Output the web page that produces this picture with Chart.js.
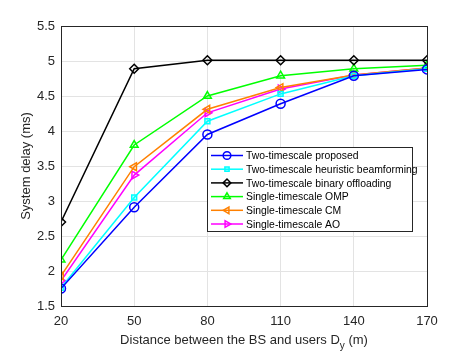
<!DOCTYPE html>
<html>
<head>
<meta charset="utf-8">
<script src="https://cdn.jsdelivr.net/npm/chart.js@4"></script>
<style>
  body { margin: 0; background: #fff; }
  #wrap { width: 471px; height: 353px; }
</style>
</head>
<body>
<div id="wrap"><canvas id="graph"></canvas></div>
<script>
const distances = [20, 50, 80, 110, 140, 170];
const proposed = [1.75, 2.91, 3.95, 4.39, 4.79, 4.88];
const heuristicBF = [1.76, 3.05, 4.14, 4.53, 4.79, 4.89];
const binaryOffload = [2.70, 4.89, 5.01, 5.01, 5.01, 5.01];
const singleOMP = [2.16, 3.80, 4.50, 4.79, 4.89, 4.94];
const singleCM = [1.93, 3.49, 4.31, 4.62, 4.80, 4.90];
const singleAO = [1.86, 3.37, 4.26, 4.60, 4.80, 4.90];

const toPts = (arr) => arr.map((v, i) => ({ x: distances[i], y: v }));

const mk = (label, data, color, style, rot) => ({
  label: label,
  data: toPts(data),
  borderColor: color,
  backgroundColor: 'transparent',
  borderWidth: 1.5,
  pointStyle: style,
  rotation: rot || 0,
  pointRadius: style === 'rect' ? 3.5 : 4.5,
  pointBorderWidth: 1.5,
  pointBackgroundColor: style === 'rect' ? 'rgba(0,255,255,0.25)' : 'transparent',
  pointBorderColor: color,
  fill: false,
  tension: 0
});

const datasets = [
  mk('Two-timescale proposed', proposed, '#0000ff', 'circle'),
  mk('Two-timescale heuristic beamforming', heuristicBF, '#00ffff', 'rect'),
  mk('Two-timescale binary offloading', binaryOffload, '#000000', 'rectRot'),
  mk('Single-timescale OMP', singleOMP, '#00ff00', 'triangle'),
  mk('Single-timescale CM', singleCM, '#ff8000', 'triangle', -90),
  mk('Single-timescale AO', singleAO, '#ff00ff', 'triangle', 90)
];

const FONT = '"Liberation Sans", Arial, sans-serif';

// caixa, titulo do eixo x e legenda desenhados a mao
const extras = {
  id: 'extras',
  afterDraw(chart) {
    const ctx = chart.ctx;
    const a = chart.chartArea;
    ctx.save();
    ctx.strokeStyle = '#262626';
    ctx.lineWidth = 1;
    ctx.strokeRect(Math.round(a.left) + 0.5, Math.round(a.top) + 0.5,
      Math.round(a.right - a.left), Math.round(a.bottom - a.top));

    // titulo eixo x com subscrito
    ctx.fillStyle = '#262626';
    ctx.textBaseline = 'middle';
    const f = '13px ' + FONT;
    const fs = '10px ' + FONT;
    const t1 = 'Distance between the BS and users D';
    const t2 = 'y';
    const t3 = ' (m)';
    ctx.font = f;
    const w1 = ctx.measureText(t1).width;
    const w3 = ctx.measureText(t3).width;
    ctx.font = fs;
    const w2 = ctx.measureText(t2).width;
    const cx = (a.left + a.right) / 2;
    let x = cx - (w1 + w2 + w3) / 2;
    const y = 340;
    ctx.textAlign = 'left';
    ctx.font = f;
    ctx.fillText(t1, x, y);
    x += w1;
    ctx.font = fs;
    ctx.fillText(t2, x, y + 6);
    x += w2;
    ctx.font = f;
    ctx.fillText(t3, x, y);

    // legenda
    const lx = 207, ly = 147, lw = 205, lh = 84;
    ctx.fillStyle = '#ffffff';
    ctx.fillRect(lx, ly, lw, lh);
    ctx.strokeStyle = '#262626';
    ctx.strokeRect(lx + 0.5, ly + 0.5, lw, lh);
    ctx.font = '10.4px ' + FONT;
    chart.data.datasets.forEach((ds, i) => {
      const ry = ly + 8.5 + i * 13.7;
      ctx.strokeStyle = ds.borderColor;
      ctx.lineWidth = 1.5;
      ctx.beginPath();
      ctx.moveTo(lx + 4, ry);
      ctx.lineTo(lx + 36, ry);
      ctx.stroke();
      ctx.fillStyle = ds.pointBackgroundColor;
      ctx.strokeStyle = ds.borderColor;
      Chart.helpers.drawPoint(ctx, {
        pointStyle: ds.pointStyle,
        rotation: ds.rotation,
        radius: ds.pointRadius * 0.85,
        borderWidth: 1.5
      }, lx + 20, ry);
      ctx.fillStyle = '#000000';
      ctx.textAlign = 'left';
      ctx.fillText(ds.label, lx + 39, ry + 1);
    });
    ctx.restore();
  }
};

const ctxG = document.getElementById('graph').getContext('2d');

new Chart(ctxG, {
  type: 'line',
  data: { datasets: datasets },
  options: {
    responsive: true,
    maintainAspectRatio: false,
    animation: false,
    layout: { padding: { top: 26, right: 44, left: 0, bottom: 0 } },
    plugins: {
      legend: { display: false },
      tooltip: { enabled: false }
    },
    scales: {
      x: {
        type: 'linear',
        min: 20,
        max: 170,
        afterBuildTicks: (s) => { s.ticks = distances.map(v => ({ value: v })); },
        afterFit: (s) => { s.height = 47; },
        ticks: {
          color: '#262626',
          font: { size: 13, family: FONT },
          padding: 8
        },
        grid: { color: '#e3e3e3', drawTicks: false },
        border: { display: false }
      },
      y: {
        min: 1.5,
        max: 5.5,
        afterFit: (s) => { s.width = 61; },
        ticks: {
          stepSize: 0.5,
          color: '#262626',
          font: { size: 13, family: FONT },
          padding: 6,
          callback: (v) => String(Math.round(v * 10) / 10)
        },
        title: {
          display: true,
          text: 'System delay (ms)',
          color: '#262626',
          font: { size: 13, family: FONT },
          padding: { top: 19, bottom: 0 }
        },
        grid: { color: '#e3e3e3', drawTicks: false },
        border: { display: false }
      }
    }
  },
  plugins: [extras]
});
</script>
</body>
</html>
